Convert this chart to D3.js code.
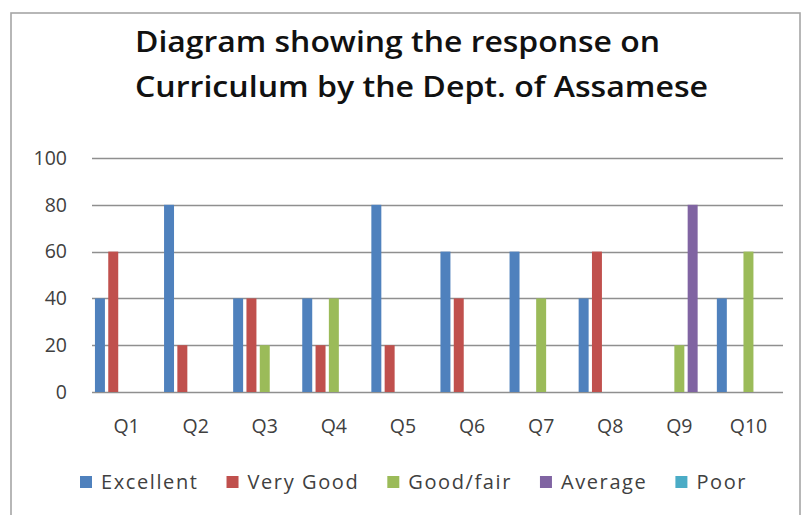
<!DOCTYPE html>
<html>
<head>
<meta charset="utf-8">
<script src="https://cdn.jsdelivr.net/npm/d3@7"></script>
<style>
  html, body { margin: 0; padding: 0; background: #fff; }
  svg { display: block; }
  text { font-family: "Open Sans", "Noto Sans", sans-serif; }
</style>
</head>
<body>
<svg id="chart" width="803" height="515"></svg>
<script>
// ---- data ----
const titleLines = ["Diagram showing the response on", "Curriculum by the Dept. of Assamese"];
const categories = ["Q1", "Q2", "Q3", "Q4", "Q5", "Q6", "Q7", "Q8", "Q9", "Q10"];
const seriesNames = ["Excellent", "Very Good", "Good/fair", "Average", "Poor"];
const excellent = [40, 80, 40, 40, 80, 60, 60, 40, 0, 40];
const veryGood  = [60, 20, 40, 20, 20, 40, 0, 60, 0, 0];
const goodFair  = [0, 0, 20, 40, 0, 0, 40, 0, 20, 60];
const average   = [0, 0, 0, 0, 0, 0, 0, 0, 80, 0];
const poor      = [0, 0, 0, 0, 0, 0, 0, 0, 0, 0];
const yTicks = [0, 20, 40, 60, 80, 100];
const colors = ["#4F81BD", "#C0504D", "#9BBB59", "#8064A2", "#4BACC6"];

const seriesValues = [excellent, veryGood, goodFair, average, poor];

const svg = d3.select("#chart");

// outer chart frame
svg.append("rect").attr("x", 11).attr("y", 13).attr("width", 789).attr("height", 520)
  .attr("fill", "#fff").attr("stroke", "#a6a6a6").attr("stroke-width", 1.6);

// title
const titleText = svg.append("g");
const titleLens = [525, 573];
titleLines.forEach((t, i) => {
  titleText.append("text")
    .attr("x", 135).attr("y", 52 + i * 45)
    .attr("font-size", 28).attr("font-weight", 600).attr("fill", "#111")
    .attr("textLength", titleLens[i]).attr("lengthAdjust", "spacingAndGlyphs")
    .text(t);
});

// scales
const plotLeft = 92, plotRight = 783, plotTop = 158, plotBottom = 392;
const x0 = d3.scaleBand().domain(categories).range([plotLeft, plotRight]).padding(0);
const x1 = d3.scaleBand().domain(seriesNames).range([-31.6, 31.6]).paddingInner(0.25).paddingOuter(0);
const y = d3.scaleLinear().domain([0, 100]).range([plotBottom, plotTop]);

// gridlines
svg.append("g").selectAll("line").data(yTicks).join("line")
  .attr("x1", plotLeft).attr("x2", plotRight)
  .attr("y1", d => Math.round(y(d)) + 0.5).attr("y2", d => Math.round(y(d)) + 0.5)
  .attr("stroke", "#8f8f8f").attr("stroke-width", 1.6);

// y axis labels
const yAxis = d3.axisLeft(y).tickValues(yTicks).tickSize(0).tickPadding(0);
const yg = svg.append("g").attr("transform", `translate(67,0)`).call(yAxis);
yg.select(".domain").remove();
yg.selectAll("text").attr("font-size", 19.5).attr("fill", "#404040")
  .attr("font-family", "'Open Sans', sans-serif");

// x axis labels
const xAxis = d3.axisBottom(x0).tickSize(0).tickPadding(0);
const xg = svg.append("g").attr("transform", `translate(0,${plotBottom})`).call(xAxis);
xg.select(".domain").remove();
xg.selectAll("text").attr("font-size", 19.5).attr("fill", "#404040")
  .attr("font-family", "'Open Sans', sans-serif")
  .attr("dy", null).attr("y", 41);

// bars
const barData = [];
categories.forEach((c, ci) => {
  seriesNames.forEach((s, si) => {
    barData.push({ cat: c, series: s, value: seriesValues[si][ci], color: colors[si] });
  });
});
svg.append("g").selectAll("rect").data(barData.filter(d => d.value > 0)).join("rect")
  .attr("x", d => x0(d.cat) + x0.bandwidth() / 2 + x1(d.series))
  .attr("width", x1.bandwidth())
  .attr("y", d => y(d.value))
  .attr("height", d => y(0) - y(d.value))
  .attr("fill", d => d.color);

// legend
const legend = svg.append("g");
let lx = 80;
seriesNames.forEach((s, i) => {
  const g = legend.append("g").attr("transform", `translate(${lx},0)`);
  g.append("rect").attr("x", 0).attr("y", 476).attr("width", 12).attr("height", 12).attr("fill", colors[i]);
  const t = g.append("text").attr("x", 21).attr("y", 489)
    .attr("font-size", 20).attr("letter-spacing", 1.6).attr("fill", "#404040").text(s);
  const w = t.node().getComputedTextLength();
  lx += 21 + w + 28;
});
</script>
</body>
</html>
